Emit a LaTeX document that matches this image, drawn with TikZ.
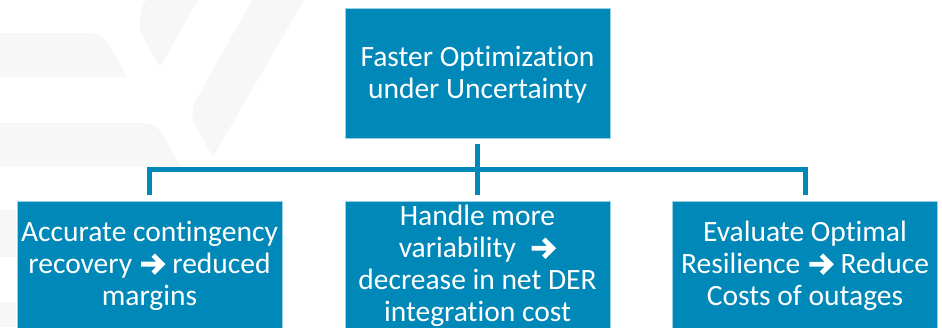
\documentclass[tikz,border=0pt]{standalone}
\usepackage{fontspec}
\setmainfont{Carlito}[Ligatures={NoCommon,NoRequired,NoContextual}]
\definecolor{boxblue}{RGB}{0,136,184}
\definecolor{wm}{RGB}{247,247,247}
\newcommand{\rarr}{\tikz[baseline=0pt, x=1pt, y=1pt]{\path (0,0) rectangle (24.5,20); \draw[white, line width=4.8pt, line cap=butt, line join=miter] (0,9.5) -- (19,9.5) (12,0.5) -- (21,9.5) -- (12,18.5);}}
\tikzset{
  box/.style={fill=boxblue, draw=boxblue!40!white, line width=0.8pt, minimum width=265pt, minimum height=130pt,
    inner sep=0pt, text=white, align=center, font=\fontsize{29.5}{32}\selectfont},
  conn/.style={draw=boxblue, line width=5pt, line join=miter},
  wmark/.style={fill=wm, draw=none}
}
\begin{document}
\begin{tikzpicture}[x=1pt, y=-1pt]
\useasboundingbox (0,0) rectangle (942,327);
% watermark
\fill[wmark] (0,33) -- (86,33) .. controls (98,33) and (104,37) .. (110,46) -- (127,77) -- (0,77) -- cycle;
\fill[wmark] (0,123) -- (143,123) .. controls (152,123) and (158,127) .. (163,135) -- (181,167) -- (0,167) -- cycle;
\fill[wmark] (146,0) -- (198,0) -- (160,67) -- (143,37) .. controls (138,28) and (138,14) .. (146,0) -- cycle;
\fill[wmark] (252,0) -- (304,0) -- (213,157) -- (196,127) .. controls (191,118) and (191,109) .. (196,100) -- cycle;
\fill[wmark] (0,210) rectangle (16,257);
\fill[wmark] (0,302) rectangle (16,327);
% boxes
\node[box] (top) at (477.5,73) {\rule{0pt}{24pt}Faster Optimization\\under Uncertainty};
\node[box] (left) at (149.5,266) {Accurate contingency\\recovery \rarr{} reduced\\margins};
\node[box] (mid) at (477.5,266) {Handle more\\variability\ \ \rarr\\decrease in net DER\\integration cost};
\node[box] (right) at (805,266) {Evaluate Optimal\\Resilience \rarr{} Reduce\\Costs of outages};
% connectors
\coordinate (bar) at (477.5,169);
\draw[conn] ([yshift=-6pt]top.south) -- ([yshift=6pt]mid.north);
\draw[conn] ([yshift=6pt]left.north) -- (left.north |- bar) -- (right.north |- bar) -- ([yshift=6pt]right.north);
\end{tikzpicture}
\end{document}
